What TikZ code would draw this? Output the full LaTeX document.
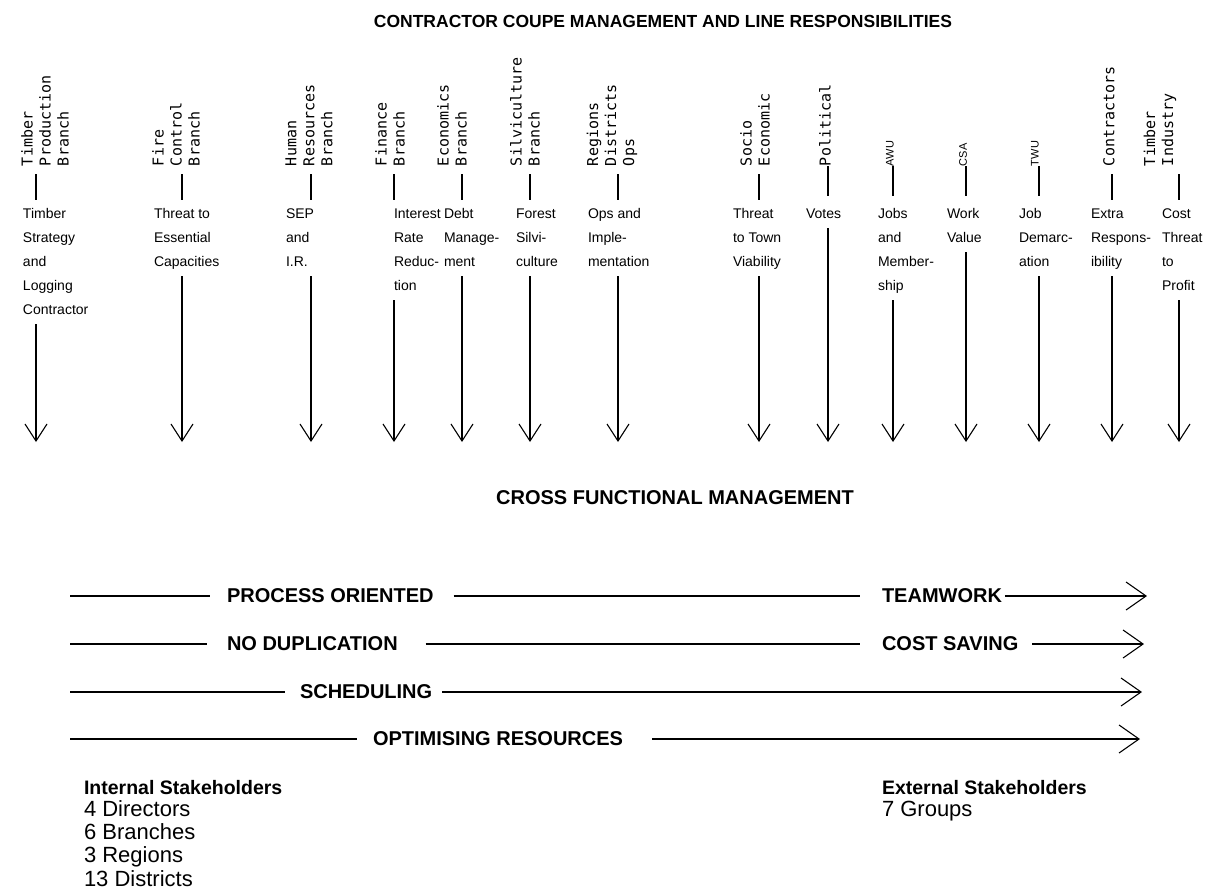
\documentclass[tikz,border=0pt]{standalone}
\usepackage{fontspec}
\setmainfont{Liberation Sans}
\newfontfamily\hdrfont{DejaVu Sans Mono}
\usetikzlibrary{arrows.meta}

% lines stacked flush left, baseline on the first line
\newcommand\linestack[1]{\begin{tabular}[t]{@{}l@{}}#1\end{tabular}}

\begin{document}
\begin{tikzpicture}[x=1pt,y=-1pt,
  every node/.style={inner sep=0pt, outer sep=0pt},
  hdr/.style={rotate=90, anchor=west, align=left,
    font=\hdrfont\fontsize{15}{18}\selectfont},
  hdrsmall/.style={rotate=90, anchor=west, font=\fontsize{11}{13}\selectfont},
  body/.style={anchor=base west, font=\fontsize{14}{24}\selectfont},
  ln/.style={line width=1.1pt},
  stem/.style={ln, shorten <=8pt, shorten >=1pt},
  stemtouch/.style={ln, shorten <=0pt, shorten >=5pt},
  drop/.style={ln, shorten <=3pt, -{Straight Barb[length=17pt,width=22pt]}},
  rowarrow/.style={ln, -{Straight Barb[length=20pt,width=28pt]}},
  heading/.style={font=\bfseries\fontsize{20}{24}\selectfont},
  caption/.style={anchor=west, font=\bfseries\fontsize{20}{24}\selectfont},
  groupname/.style={anchor=base west, font=\bfseries\fontsize{19.5}{24}\selectfont},
  grouplist/.style={anchor=base west, font=\fontsize{22}{23.4}\selectfont},
]
\useasboundingbox (0,0) rectangle (1226,892);

% titles
\node[font=\bfseries\fontsize{17.5}{20}\selectfont] (title) at (663,21)
  {CONTRACTOR COUPE MANAGEMENT AND LINE RESPONSIBILITIES};
\node[heading] (cfm) at (675,498) {CROSS FUNCTIONAL MANAGEMENT};

% ---- line responsibilities: header, stem, description, drop arrow ----
\node[hdr] (h1) at (45,166) {Timber\\Production\\Branch};
\node[body] (t1) at (23,218) {\linestack{Timber\\Strategy\\and\\Logging\\Contractor}};
\coordinate (a1) at (36,442);
\draw[stem] (h1.west -| a1) -- (t1.north -| a1);
\draw[drop] (t1.south -| a1) -- (a1);

\node[hdr] (h2) at (176,166) {Fire\\Control\\Branch};
\node[body] (t2) at (154,218) {\linestack{Threat to\\Essential\\Capacities}};
\coordinate (a2) at (182,442);
\draw[stem] (h2.west -| a2) -- (t2.north -| a2);
\draw[drop] (t2.south -| a2) -- (a2);

\node[hdr] (h3) at (309,166) {Human\\Resources\\Branch};
\node[body] (t3) at (286,218) {\linestack{SEP\\and\\I.R.}};
\coordinate (a3) at (311,442);
\draw[stem] (h3.west -| a3) -- (t3.north -| a3);
\draw[drop] (t3.south -| a3) -- (a3);

\node[hdr] (h4) at (390,166) {Finance\\Branch};
\node[body] (t4) at (394,218) {\linestack{Interest\\Rate\\Reduc-\\tion}};
\coordinate (a4) at (394,442);
\draw[stem] (h4.west -| a4) -- (t4.north -| a4);
\draw[drop] (t4.south -| a4) -- (a4);

\node[hdr] (h5) at (452,166) {Economics\\Branch};
\node[body] (t5) at (444,218) {\linestack{Debt\\Manage-\\ment}};
\coordinate (a5) at (462,442);
\draw[stem] (h5.west -| a5) -- (t5.north -| a5);
\draw[drop] (t5.south -| a5) -- (a5);

\node[hdr] (h6) at (525,166) {Silviculture\\Branch};
\node[body] (t6) at (516,218) {\linestack{Forest\\Silvi-\\culture}};
\coordinate (a6) at (530,442);
\draw[stem] (h6.west -| a6) -- (t6.north -| a6);
\draw[drop] (t6.south -| a6) -- (a6);

\node[hdr] (h7) at (612,166) {Regions\\Districts\\Ops};
\node[body] (t7) at (588,218) {\linestack{Ops and\\Imple-\\mentation}};
\coordinate (a7) at (618,442);
\draw[stem] (h7.west -| a7) -- (t7.north -| a7);
\draw[drop] (t7.south -| a7) -- (a7);

\node[hdr] (h8) at (755,166) {Socio\\Economic};
\node[body] (t8) at (733,218) {\linestack{Threat\\to Town\\Viability}};
\coordinate (a8) at (759,442);
\draw[stem] (h8.west -| a8) -- (t8.north -| a8);
\draw[drop] (t8.south -| a8) -- (a8);

\node[hdr] (h9) at (825,166) {Political};
\node[body] (t9) at (806,218) {\linestack{Votes}};
\coordinate (a9) at (828,442);
\draw[stemtouch] (h9.west -| a9) -- (t9.north -| a9);
\draw[drop] (t9.south -| a9) -- (a9);

\node[hdrsmall] (h10) at (890,166) {AWU};
\node[body] (t10) at (878,218) {\linestack{Jobs\\and\\Member-\\ship}};
\coordinate (a10) at (893,442);
\draw[stemtouch] (h10.west -| a10) -- (t10.north -| a10);
\draw[drop] (t10.south -| a10) -- (a10);

\node[hdrsmall] (h11) at (963,166) {CSA};
\node[body] (t11) at (947,218) {\linestack{Work\\Value}};
\coordinate (a11) at (966,442);
\draw[stemtouch] (h11.west -| a11) -- (t11.north -| a11);
\draw[drop] (t11.south -| a11) -- (a11);

\node[hdrsmall] (h12) at (1035,166) {TWU};
\node[body] (t12) at (1019,218) {\linestack{Job\\Demarc-\\ation}};
\coordinate (a12) at (1039,442);
\draw[stemtouch] (h12.west -| a12) -- (t12.north -| a12);
\draw[drop] (t12.south -| a12) -- (a12);

\node[hdr] (h13) at (1109,166) {Contractors};
\node[body] (t13) at (1091,218) {\linestack{Extra\\Respons-\\ibility}};
\coordinate (a13) at (1112,442);
\draw[stem] (h13.west -| a13) -- (t13.north -| a13);
\draw[drop] (t13.south -| a13) -- (a13);

\node[hdr] (h14) at (1160,166) {Timber\\Industry};
\node[body] (t14) at (1162,218) {\linestack{Cost\\Threat\\to\\Profit}};
\coordinate (a14) at (1179,442);
\draw[stem] (h14.west -| a14) -- (t14.north -| a14);
\draw[drop] (t14.south -| a14) -- (a14);

% ---- cross functional rows ----
\coordinate (r1s) at (70,596);
\node[caption] (po) at (227,596) {PROCESS ORIENTED};
\node[caption] (tw) at (882,596) {TEAMWORK};
\coordinate (r1e) at (1147,596);
\draw[ln] (r1s) -- ([xshift=-17pt]po.west);
\draw[ln] ([xshift=20pt]po.east) -- ([xshift=-22pt]tw.west);
\draw[rowarrow] ([xshift=3pt]tw.east) -- (r1e);

\coordinate (r2s) at (70,644);
\node[caption] (nd) at (227,644) {NO DUPLICATION};
\node[caption] (cs) at (882,644) {COST SAVING};
\coordinate (r2e) at (1144,644);
\draw[ln] (r2s) -- ([xshift=-20pt]nd.west);
\draw[ln] ([xshift=28pt]nd.east) -- ([xshift=-22pt]cs.west);
\draw[rowarrow] ([xshift=14pt]cs.east) -- (r2e);

\coordinate (r3s) at (70,692);
\node[caption] (sc) at (300,692) {SCHEDULING};
\coordinate (r3e) at (1142,692);
\draw[ln] (r3s) -- ([xshift=-15pt]sc.west);
\draw[rowarrow] ([xshift=10pt]sc.east) -- (r3e);

\coordinate (r4s) at (70,739);
\node[caption] (op) at (373,739) {OPTIMISING RESOURCES};
\coordinate (r4e) at (1140,739);
\draw[ln] (r4s) -- ([xshift=-16pt]op.west);
\draw[rowarrow] ([xshift=29pt]op.east) -- (r4e);

% ---- stakeholder counts ----
\node[groupname] (ish) at (84,794) {Internal Stakeholders};
\node[grouplist] (isl) at (84,816) {\linestack{4 Directors\\6 Branches\\3 Regions\\13 Districts}};
\node[groupname] (esh) at (882,794) {External Stakeholders};
\node[grouplist] (esl) at (882,816) {7 Groups};
\end{tikzpicture}
\end{document}
